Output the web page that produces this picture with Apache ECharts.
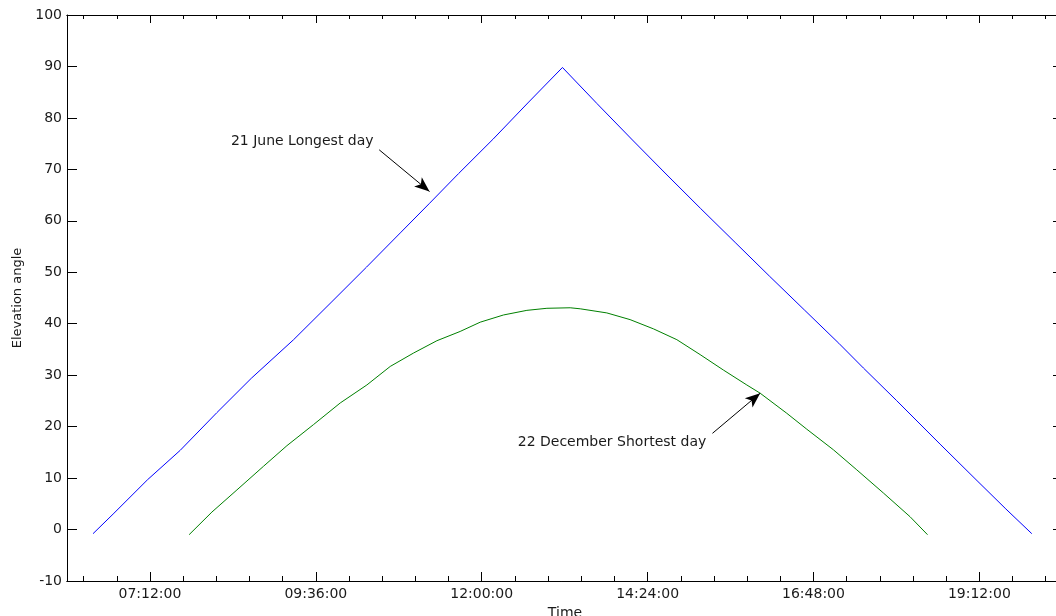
<!DOCTYPE html>
<html>
<head>
<meta charset="utf-8">
<script src="https://cdn.jsdelivr.net/npm/echarts@6/dist/echarts.min.js"></script>
<style>
html,body{margin:0;padding:0;background:#fff;}
#chart{width:1056px;height:616px;}
</style>
</head>
<body>
<div id="chart"></div>
<script>
// Time in minutes after midnight, elevation in degrees
const juneTime = [382.6, 400, 430, 458.3, 490, 520, 556.7, 590, 620, 650, 674.7, 700, 730, 760, 790.1, 820, 850, 880, 910, 940, 970, 1000, 1030, 1051.3, 1080, 1117.9, 1150, 1175, 1197.5];
const juneElev = [-0.8, 3.0, 9.7, 15.4, 22.7, 29.4, 36.9, 44.3, 51.0, 57.8, 63.4, 69.2, 75.9, 82.9, 89.8, 82.8, 75.9, 69.1, 62.4, 55.8, 49.2, 42.7, 36.2, 31.4, 25.1, 16.6, 9.5, 4.0, -0.8];

const decTime = [466, 485.8, 507.5, 530.6, 550.9, 574, 597.2, 620.3, 640.6, 660.8, 681.1, 701.3, 718.7, 738.9, 759.2, 776.6, 796.8, 805.5, 828.6, 848.8, 869.1, 889.4, 909.6, 929.8, 950.1, 961.7, 984.8, 1002.2, 1025.3, 1045.6, 1068.7, 1091.8, 1107];
const decElev = [-1, 3.4, 7.7, 12.3, 16.3, 20.4, 24.6, 28.1, 31.7, 34.3, 36.7, 38.5, 40.3, 41.7, 42.6, 43.0, 43.1, 42.9, 42.1, 40.8, 39.0, 36.9, 34.0, 31.0, 28.1, 26.5, 22.6, 19.5, 15.5, 11.6, 7.1, 2.5, -1];

const majorTicks = [432, 576, 720, 864, 1008, 1152];
const minorStep = 28.8;
const xMin = 360, xMax = 1224.6;

const juneLabel = '21 June Longest day';
const decLabel = '22 December Shortest day';
const juneLabelAt = [564.2, 75.4];
const decLabelAt = [833.1, 16.9];
const juneArrow = [[631, 73.8], [674.7, 65.7]];
const decArrow = [[920.3, 18.7], [961.7, 26.5]];

const minorTicks = [];
for (let k = Math.ceil(xMin / minorStep); k * minorStep <= xMax; k++) minorTicks.push(+(k * minorStep).toFixed(1));

function fmt(v) {
  const total = Math.round(v * 60);
  const h = Math.floor(total / 3600), m = Math.floor((total % 3600) / 60), s = total % 60;
  const p = n => String(n).padStart(2, '0');
  return p(h) + ':' + p(m) + ':' + p(s);
}

const FONT = 'DejaVu Sans';
const TXT = '#1a1a1a';
const axisLineStyle = {color: '#000', width: 1};

function xAx(pos, ticks, len, labels) {
  return {
    type: 'value', min: xMin, max: xMax, position: pos, gridIndex: 0,
    axisLine: {show: true, onZero: false, lineStyle: axisLineStyle},
    axisTick: {show: true, inside: true, length: len, customValues: ticks, lineStyle: axisLineStyle},
    axisLabel: labels ? {show: true, customValues: majorTicks, formatter: fmt, margin: 6,
      color: TXT, fontFamily: FONT, fontSize: 14} : {show: false},
    axisPointer: {show: false},
    splitLine: {show: false},
    name: labels ? 'Time' : '', nameLocation: 'middle', nameGap: 24,
    nameTextStyle: {color: TXT, fontFamily: FONT, fontSize: 14}
  };
}

const chart = echarts.init(document.getElementById('chart'), null, {renderer: 'canvas'});
chart.setOption({
  animation: false,
  backgroundColor: '#fff',
  tooltip: {show: false},
  grid: {left: 67, right: -7, top: 15, bottom: 35, containLabel: false, outerBoundsMode: 'none'},
  xAxis: [
    xAx('bottom', minorTicks, 5, false),
    xAx('bottom', majorTicks, 9, true),
    xAx('top', minorTicks, 4, false),
    xAx('top', majorTicks, 8, false)
  ],
  yAxis: [
    {
      type: 'value', min: -10, max: 100, interval: 10, position: 'left',
      axisLine: {show: true, onZero: false, lineStyle: axisLineStyle},
      axisTick: {show: true, inside: true, length: 10, lineStyle: axisLineStyle},
      axisLabel: {color: TXT, fontFamily: FONT, fontSize: 14, margin: 5},
      splitLine: {show: false},
      name: 'Elevation angle', nameLocation: 'middle', nameGap: 43,
      nameTextStyle: {color: TXT, fontFamily: FONT, fontSize: 13}
    },
    {
      type: 'value', min: -10, max: 100, interval: 10, position: 'right',
      axisLine: {show: true, onZero: false, lineStyle: axisLineStyle},
      axisTick: {show: true, inside: true, length: 10, lineStyle: axisLineStyle},
      axisLabel: {show: false},
      splitLine: {show: false}
    }
  ],
  series: [
    {
      name: 'June', type: 'line', xAxisIndex: 0, yAxisIndex: 0,
      data: juneTime.map((t, i) => [t, juneElev[i]]),
      showSymbol: false, symbol: 'none', silent: true,
      itemStyle: {color: '#0000ff'},
      lineStyle: {color: '#0000ff', width: 1},
      emphasis: {disabled: true}
    },
    {
      name: 'December', type: 'line', xAxisIndex: 0, yAxisIndex: 0,
      data: decTime.map((t, i) => [t, decElev[i]]),
      showSymbol: false, symbol: 'none', silent: true,
      itemStyle: {color: '#008000'},
      lineStyle: {color: '#008000', width: 1},
      emphasis: {disabled: true}
    },
    {
      name: 'notes', type: 'line', xAxisIndex: 0, yAxisIndex: 0,
      data: [], silent: true,
      markLine: {
        silent: true, animation: false,
        symbol: ['none', 'arrow'], symbolSize: [9, 15],
        itemStyle: {color: '#000'},
        lineStyle: {color: '#000', width: 1, type: 'solid'},
        label: {show: false},
        data: [
          [{coord: juneArrow[0]}, {coord: juneArrow[1]}],
          [{coord: decArrow[0]}, {coord: decArrow[1]}]
        ]
      },
      markPoint: {
        silent: true, animation: false,
        symbol: 'rect', symbolSize: 1,
        itemStyle: {color: 'rgba(0,0,0,0)'},
        label: {show: true, position: 'inside', color: TXT, fontFamily: FONT, fontSize: 14},
        data: [
          {coord: juneLabelAt, label: {formatter: juneLabel}},
          {coord: decLabelAt, label: {formatter: decLabel}}
        ]
      }
    }
  ]
});
</script>
</body>
</html>
